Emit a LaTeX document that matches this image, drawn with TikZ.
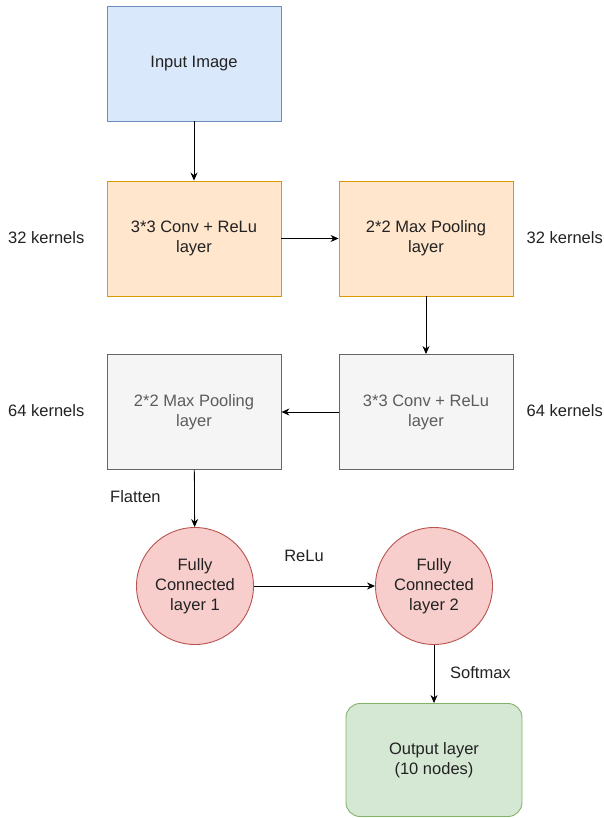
\documentclass[tikz,border=0pt]{standalone}
\usepackage{fontspec}
\setmainfont{Liberation Sans}
\usetikzlibrary{arrows.meta}
\definecolor{inblue}{HTML}{DAE8FC}
\definecolor{inbluedraw}{HTML}{6C8EBF}
\definecolor{convorange}{HTML}{FFE6CC}
\definecolor{convorangedraw}{HTML}{D79B00}
\definecolor{poolgray}{HTML}{F5F5F5}
\definecolor{poolgraydraw}{HTML}{666666}
\definecolor{poolgraytext}{HTML}{333333}
\definecolor{fcred}{HTML}{F8CECC}
\definecolor{fcreddraw}{HTML}{B85450}
\definecolor{outgreen}{HTML}{D5E8D4}
\definecolor{outgreendraw}{HTML}{82B366}
\definecolor{labeltext}{HTML}{222222}

\begin{document}
\begin{tikzpicture}[x=1pt, y=-1pt, >={Stealth[length=8pt,width=7pt]},
    font=\fontsize{16.5}{20}\selectfont, text=labeltext,
    layerbox/.style={draw, line width=0.9pt, minimum width=174pt, minimum height=115pt,
        align=center, inner sep=0pt},
    fcnode/.style={draw=fcreddraw, fill=fcred, line width=0.9pt, circle,
        minimum size=117pt, align=center, inner sep=0pt},
    flow/.style={->, line width=0.8pt, black}]

    \useasboundingbox (0,0) rectangle (604,818);

    % --- capas ---
    \node[layerbox, draw=inbluedraw, fill=inblue] (input) at (194,63.5) {Input Image};
    \node[layerbox, draw=convorangedraw, fill=convorange] (conv1) at (194,238.5)
        {3*3 Conv + ReLu\\layer};
    \node[layerbox, draw=convorangedraw, fill=convorange] (pool1) at (426,238.5)
        {2*2 Max Pooling\\layer};
    \node[layerbox, draw=poolgraydraw, fill=poolgray, text=poolgraytext!80] (conv2) at (426,412)
        {3*3 Conv + ReLu\\layer};
    \node[layerbox, draw=poolgraydraw, fill=poolgray, text=poolgraytext!80] (pool2) at (194,412)
        {2*2 Max Pooling\\layer};
    \node[fcnode] (fc1) at (195,586) {Fully\\Connected\\layer 1};
    \node[fcnode] (fc2) at (434,586) {Fully\\Connected\\layer 2};
    \node[layerbox, draw=outgreendraw, fill=outgreen, rounded corners=14pt,
        minimum width=176pt, minimum height=113pt] (output) at (434,760)
        {Output layer\\(10 nodes)};

    % --- flechas ---
    \draw[flow] (input) -- (conv1);
    \draw[flow] (conv1) -- (pool1);
    \draw[flow] (pool1) -- (conv2);
    \draw[flow] (conv2) -- (pool2);
    \draw[flow] (pool2) -- (fc1);
    \draw[flow] (fc1) -- (fc2);
    \draw[flow] (fc2) -- (output);

    % --- etiquetas ---
    \node[anchor=west, inner sep=0pt] (kconva) at (8,238) {32 kernels};
    \node[anchor=east, inner sep=0pt] (kpoola) at (603,238) {32 kernels};
    \node[anchor=west, inner sep=0pt] (kpoolb) at (8,411) {64 kernels};
    \node[anchor=east, inner sep=0pt] (kconvb) at (603,411) {64 kernels};
    \node[anchor=west, inner sep=0pt] (flatten) at (110,497) {Flatten};
    \node (relu) at (304,556) {ReLu};
    \node[anchor=west, inner sep=0pt] (softmax) at (450,673) {Softmax};

\end{tikzpicture}
\end{document}
